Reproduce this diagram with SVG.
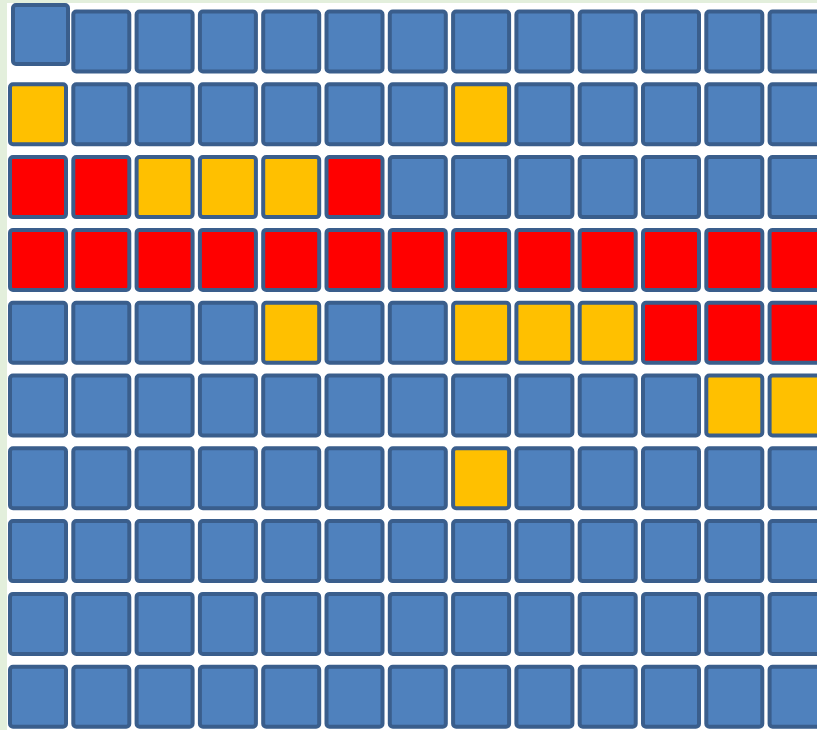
<svg xmlns="http://www.w3.org/2000/svg" width="817" height="730" viewBox="0 0 817 730">
<style>
rect.c{stroke:#3a5e8c;stroke-width:4;rx:3;ry:3;width:56px;height:60px}
.b{fill:#4f81bd}.y{fill:#ffc000}.r{fill:#ff0000}
</style>
<rect x="0" y="0" width="817" height="730" fill="#e3efdc"/>
<rect x="7" y="3" width="810" height="727" fill="#ffffff"/>
<g id="grid">
<rect id="c1-1" class="c b" x="13" y="5" style="width:55px;height:59px"/>
<g id="row1" transform="translate(0,11.5)">
<rect class="c b" x="73.3" y="0"/><rect class="c b" x="136.6" y="0"/><rect class="c b" x="199.9" y="0"/><rect class="c b" x="263.2" y="0"/><rect class="c b" x="326.5" y="0"/><rect class="c b" x="389.8" y="0"/><rect class="c b" x="453.1" y="0"/><rect class="c b" x="516.4" y="0"/><rect class="c b" x="579.7" y="0"/><rect class="c b" x="643" y="0"/><rect class="c b" x="706.3" y="0"/><rect class="c b" x="769.6" y="0"/>
</g>
<g id="row2" transform="translate(0,84.3)">
<rect class="c y" x="10" y="0"/><rect class="c b" x="73.3" y="0"/><rect class="c b" x="136.6" y="0"/><rect class="c b" x="199.9" y="0"/><rect class="c b" x="263.2" y="0"/><rect class="c b" x="326.5" y="0"/><rect class="c b" x="389.8" y="0"/><rect class="c y" x="453.1" y="0"/><rect class="c b" x="516.4" y="0"/><rect class="c b" x="579.7" y="0"/><rect class="c b" x="643" y="0"/><rect class="c b" x="706.3" y="0"/><rect class="c b" x="769.6" y="0"/>
</g>
<g id="row3" transform="translate(0,157.1)">
<rect class="c r" x="10" y="0"/><rect class="c r" x="73.3" y="0"/><rect class="c y" x="136.6" y="0"/><rect class="c y" x="199.9" y="0"/><rect class="c y" x="263.2" y="0"/><rect class="c r" x="326.5" y="0"/><rect class="c b" x="389.8" y="0"/><rect class="c b" x="453.1" y="0"/><rect class="c b" x="516.4" y="0"/><rect class="c b" x="579.7" y="0"/><rect class="c b" x="643" y="0"/><rect class="c b" x="706.3" y="0"/><rect class="c b" x="769.6" y="0"/>
</g>
<g id="row4" transform="translate(0,229.9)">
<rect class="c r" x="10" y="0"/><rect class="c r" x="73.3" y="0"/><rect class="c r" x="136.6" y="0"/><rect class="c r" x="199.9" y="0"/><rect class="c r" x="263.2" y="0"/><rect class="c r" x="326.5" y="0"/><rect class="c r" x="389.8" y="0"/><rect class="c r" x="453.1" y="0"/><rect class="c r" x="516.4" y="0"/><rect class="c r" x="579.7" y="0"/><rect class="c r" x="643" y="0"/><rect class="c r" x="706.3" y="0"/><rect class="c r" x="769.6" y="0"/>
</g>
<g id="row5" transform="translate(0,302.7)">
<rect class="c b" x="10" y="0"/><rect class="c b" x="73.3" y="0"/><rect class="c b" x="136.6" y="0"/><rect class="c b" x="199.9" y="0"/><rect class="c y" x="263.2" y="0"/><rect class="c b" x="326.5" y="0"/><rect class="c b" x="389.8" y="0"/><rect class="c y" x="453.1" y="0"/><rect class="c y" x="516.4" y="0"/><rect class="c y" x="579.7" y="0"/><rect class="c r" x="643" y="0"/><rect class="c r" x="706.3" y="0"/><rect class="c r" x="769.6" y="0"/>
</g>
<g id="row6" transform="translate(0,375.5)">
<rect class="c b" x="10" y="0"/><rect class="c b" x="73.3" y="0"/><rect class="c b" x="136.6" y="0"/><rect class="c b" x="199.9" y="0"/><rect class="c b" x="263.2" y="0"/><rect class="c b" x="326.5" y="0"/><rect class="c b" x="389.8" y="0"/><rect class="c b" x="453.1" y="0"/><rect class="c b" x="516.4" y="0"/><rect class="c b" x="579.7" y="0"/><rect class="c b" x="643" y="0"/><rect class="c y" x="706.3" y="0"/><rect class="c y" x="769.6" y="0"/>
</g>
<g id="row7" transform="translate(0,448.3)">
<rect class="c b" x="10" y="0"/><rect class="c b" x="73.3" y="0"/><rect class="c b" x="136.6" y="0"/><rect class="c b" x="199.9" y="0"/><rect class="c b" x="263.2" y="0"/><rect class="c b" x="326.5" y="0"/><rect class="c b" x="389.8" y="0"/><rect class="c y" x="453.1" y="0"/><rect class="c b" x="516.4" y="0"/><rect class="c b" x="579.7" y="0"/><rect class="c b" x="643" y="0"/><rect class="c b" x="706.3" y="0"/><rect class="c b" x="769.6" y="0"/>
</g>
<g id="row8" transform="translate(0,521.1)">
<rect class="c b" x="10" y="0"/><rect class="c b" x="73.3" y="0"/><rect class="c b" x="136.6" y="0"/><rect class="c b" x="199.9" y="0"/><rect class="c b" x="263.2" y="0"/><rect class="c b" x="326.5" y="0"/><rect class="c b" x="389.8" y="0"/><rect class="c b" x="453.1" y="0"/><rect class="c b" x="516.4" y="0"/><rect class="c b" x="579.7" y="0"/><rect class="c b" x="643" y="0"/><rect class="c b" x="706.3" y="0"/><rect class="c b" x="769.6" y="0"/>
</g>
<g id="row9" transform="translate(0,593.9)">
<rect class="c b" x="10" y="0"/><rect class="c b" x="73.3" y="0"/><rect class="c b" x="136.6" y="0"/><rect class="c b" x="199.9" y="0"/><rect class="c b" x="263.2" y="0"/><rect class="c b" x="326.5" y="0"/><rect class="c b" x="389.8" y="0"/><rect class="c b" x="453.1" y="0"/><rect class="c b" x="516.4" y="0"/><rect class="c b" x="579.7" y="0"/><rect class="c b" x="643" y="0"/><rect class="c b" x="706.3" y="0"/><rect class="c b" x="769.6" y="0"/>
</g>
<g id="row10" transform="translate(0,666.7)">
<rect class="c b" x="10" y="0"/><rect class="c b" x="73.3" y="0"/><rect class="c b" x="136.6" y="0"/><rect class="c b" x="199.9" y="0"/><rect class="c b" x="263.2" y="0"/><rect class="c b" x="326.5" y="0"/><rect class="c b" x="389.8" y="0"/><rect class="c b" x="453.1" y="0"/><rect class="c b" x="516.4" y="0"/><rect class="c b" x="579.7" y="0"/><rect class="c b" x="643" y="0"/><rect class="c b" x="706.3" y="0"/><rect class="c b" x="769.6" y="0"/>
</g>
</g>
</svg>
